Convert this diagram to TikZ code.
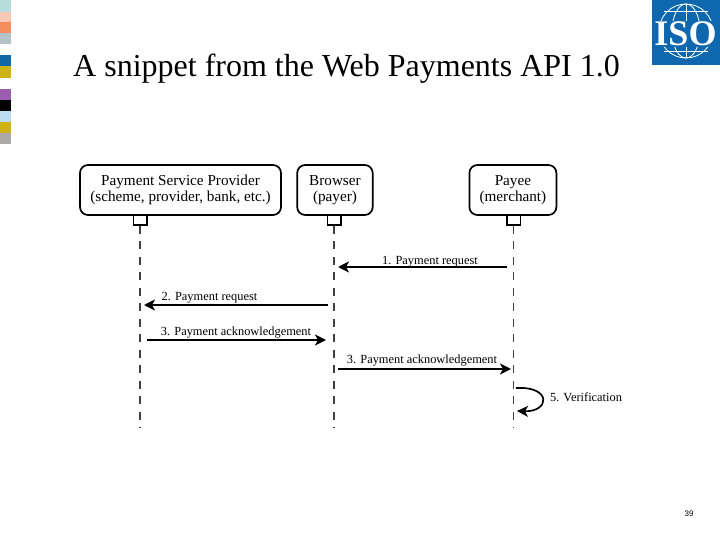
\documentclass[tikz,border=0pt]{standalone}
\usepackage{fontspec}
\setmainfont{Liberation Serif}
\newfontfamily\pagefont{Liberation Sans}
\usepackage{xcolor}
\usetikzlibrary{positioning,arrows.meta,calc}
\definecolor{isoblue}{HTML}{0F68AE}
\newcommand{\actortop}{\vspace*{4pt}}
\tikzset{
  actor/.style={draw,rectangle,rounded corners=8pt,line width=1.7pt,minimum height=50pt,align=center,font=\fontsize{15.2}{16}\selectfont,inner sep=0pt},
  port/.style={draw,rectangle,line width=1.5pt,minimum width=13.5pt,minimum height=10pt,inner sep=0pt},
  lifeline/.style={dash pattern=on 8pt off 7.5pt,line width=1.2pt,black!75},
  message/.style={-{Stealth[length=11pt,width=11pt,inset=3pt]},line width=1.7pt},
  msglabel/.style={font=\fontsize{12.4}{14}\selectfont,inner sep=0pt}
}
\begin{document}
\begin{tikzpicture}[x=1pt,y=-1pt]
            \useasboundingbox (0,0) rectangle (720,540);
            \foreach \ytop/\yhigh/\col in {0/12/B5DDDC,12/10/F9C7B5,22/11/F58D5E,33/11/B5C3C9,55/11/0F68A5,66/12/CDB414,89/11/9A5FAE,100/11/000000,111/11/BADCEE,122/11/CDB414,133/11/ADA9A6}{
                \definecolor{stripecol}{HTML}{\col}
                \fill[stripecol] (0,\ytop) rectangle ++(11,\yhigh);
            }

            \node[anchor=base west,inner sep=0pt,font=\fontsize{32}{36}\selectfont](title) at (73,77){A snippet from the Web Payments API 1.0};

            \fill[isoblue] (652,0) rectangle (720,65);
            \begin{scope}
                \clip (652,0) rectangle (720,21) (652,47) rectangle (720,65);
                \draw[white,line width=0.8pt] (686,31) circle [radius=27pt];
                \draw[white,line width=0.8pt] (686,31) ellipse [x radius=14pt, y radius=27pt];
                \draw[white,line width=0.8pt] (686,4)--(686,58);
                \draw[white,line width=0.8pt] (664,11)--(708,11) (664,51)--(708,51);
            \end{scope}
            \node[text=white,inner sep=0pt,font=\fontsize{36}{36}\selectfont\bfseries](isologo) at (685.5,34){ISO};

            \node[actor,minimum width=201pt](psp) at (180.5,190){\actortop Payment Service Provider\\(scheme, provider, bank, etc.)};
            \node[actor,minimum width=75.5pt,right=14.5pt of psp](browser){\actortop Browser\\(payer)};
            \node[actor,minimum width=87pt,right=95pt of browser](payee){\actortop Payee\\(merchant)};

            \node[port](psp-port) at (140,220){};
            \node[port](browser-port) at (334,220){};
            \node[port](payee-port) at (513.5,220){};

            \coordinate (psp-end) at (140,428);
            \coordinate (browser-end) at (334,428);
            \coordinate (payee-end) at (513.5,428);
            \draw[lifeline](psp-port.south)--(psp-end);
            \draw[lifeline](browser-port.south)--(browser-end);
            \draw[lifeline](payee-port.south)--(payee-end);

            \coordinate (m1-from) at (507,267);
            \coordinate (m1-to) at (338,267);
            \draw[message](m1-from)--(m1-to);
            \node[msglabel](m1-label) at (430,262){1. Payment request};

            \coordinate (m2-from) at (328,305);
            \coordinate (m2-to) at (144,305);
            \draw[message](m2-from)--(m2-to);
            \node[msglabel](m2-label) at (209.5,298){2. Payment request};

            \coordinate (m3-from) at (147,340);
            \coordinate (m3-to) at (326,340);
            \draw[message](m3-from)--(m3-to);
            \node[msglabel](m3-label) at (236,332.5){3. Payment acknowledgement};

            \coordinate (m4-from) at (338,369);
            \coordinate (m4-to) at (511,369);
            \draw[message](m4-from)--(m4-to);
            \node[msglabel](m4-label) at (422,360.5){3. Payment acknowledgement};

            \coordinate (m5-from) at (516,388);
            \coordinate (m5-to) at (517,411);
            \draw[message](m5-from) .. controls (552,386) and (550,412) .. (m5-to);
            \node[msglabel](m5-label) at (586,397){5. Verification};

            \node[font=\pagefont\fontsize{8}{9}\selectfont,inner sep=0pt](pagenum) at (689,513.5){39};
        \end{tikzpicture}
\end{document}
